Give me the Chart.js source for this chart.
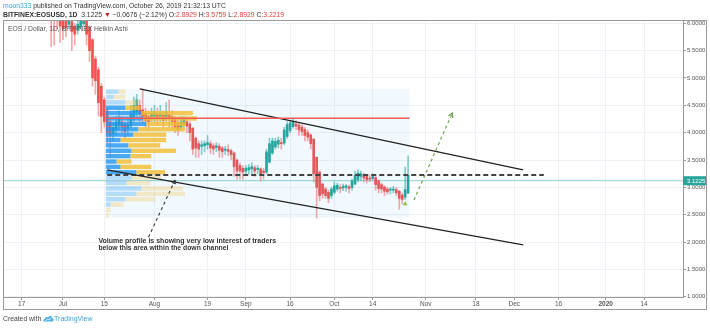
<!doctype html>
<html lang="en">
<head>
<meta charset="utf-8">
<title>EOSUSD Heikin Ashi</title>
<script src="https://cdn.jsdelivr.net/npm/chart.js@4.4.1/dist/chart.umd.min.js"></script>
<style>
  body { margin: 0; background: #fff; font-family: "Liberation Sans", Arial, sans-serif; }
  #wrap { position: relative; width: 710px; height: 328px; overflow: hidden; }
  #chart { position: absolute; left: 0; top: 0; }
  .txt { position: absolute; white-space: nowrap; font-size: 6.8px; color: #333; line-height: 8px; }
  .blue { color: #3ea3dd; }
  .red { color: #e0403c; }
</style>
</head>
<body>
<div id="wrap">
  <canvas id="chart" width="710" height="328"></canvas>
  <div class="txt" style="left:3px; top:2px;"><span class="blue">moon333</span> published on TradingView.com, October 26, 2019 21:32:13 UTC</div>
  <div class="txt" style="left:3px; top:11px;"><b>BITFINEX:EOSUSD, 1D</b>&nbsp; 3.1225 <span style="color:#b71c1c">&#9660;</span> &minus;0.0676 (&minus;2.12%) O:<span class="red">2.8929</span> H:<span class="red">3.5759</span> L:<span class="red">2.8929</span> C:<span class="red">3.2219</span></div>
  <div class="txt" style="left:8px; top:25px; color:#555;">EOS / Dollar, 1D, BITFINEX Heikin Ashi</div>
  <div class="txt" style="left:3px; top:315px; color:#444;">Created with
    <svg width="11" height="7" viewBox="0 0 11 7" style="vertical-align:-1px"><path d="M1 6.5 C0 6.5 0 4 2 4 C2 2 4 1.5 5 2.5 C6 0 10 0.5 9.5 3.5 C11 3.5 11 6.5 9.5 6.5 Z" fill="#4fb0e6"/><path d="M2.5 6 L4.5 4 L6 5 L8.5 2.5" stroke="#fff" stroke-width="0.8" fill="none"/></svg><span class="blue" style="font-size:7px">TradingView</span></div>
</div>

<script>
// time axis
const tickDays = [0, 14, 28, 45, 63, 76, 91, 106, 119, 137, 154, 167, 182, 198, 211];
const tickLabels = ['17', 'Jul', '15', 'Aug', '19', 'Sep', '16', 'Oct', '14', 'Nov', '18', 'Dec', '16', '2020', '14'];
const priceTicks = [1, 1.5, 2, 2.5, 3, 3.5, 4, 4.5, 5, 5.5, 6];

// heikin ashi candles (1D)
const candleDates = [
  '2019-06-25', '2019-06-26', '2019-06-27', '2019-06-28', '2019-06-29', '2019-06-30',
  '2019-07-01', '2019-07-02', '2019-07-03', '2019-07-04', '2019-07-05', '2019-07-06', '2019-07-07',
  '2019-07-08', '2019-07-09', '2019-07-10', '2019-07-11', '2019-07-12', '2019-07-13', '2019-07-14',
  '2019-07-15', '2019-07-16', '2019-07-17', '2019-07-18', '2019-07-19', '2019-07-20', '2019-07-21',
  '2019-07-22', '2019-07-23', '2019-07-24', '2019-07-25', '2019-07-26', '2019-07-27', '2019-07-28',
  '2019-07-29', '2019-07-30', '2019-07-31',
  '2019-08-01', '2019-08-02', '2019-08-03', '2019-08-04', '2019-08-05', '2019-08-06', '2019-08-07',
  '2019-08-08', '2019-08-09', '2019-08-10', '2019-08-11', '2019-08-12', '2019-08-13', '2019-08-14',
  '2019-08-15', '2019-08-16', '2019-08-17', '2019-08-18', '2019-08-19', '2019-08-20', '2019-08-21',
  '2019-08-22', '2019-08-23', '2019-08-24', '2019-08-25', '2019-08-26', '2019-08-27', '2019-08-28',
  '2019-08-29', '2019-08-30', '2019-08-31',
  '2019-09-01', '2019-09-02', '2019-09-03', '2019-09-04', '2019-09-05', '2019-09-06', '2019-09-07',
  '2019-09-08', '2019-09-09', '2019-09-10', '2019-09-11', '2019-09-12', '2019-09-13', '2019-09-14',
  '2019-09-15', '2019-09-16', '2019-09-17', '2019-09-18', '2019-09-19', '2019-09-20', '2019-09-21',
  '2019-09-22', '2019-09-23', '2019-09-24', '2019-09-25', '2019-09-26', '2019-09-27', '2019-09-28',
  '2019-09-29', '2019-09-30',
  '2019-10-01', '2019-10-02', '2019-10-03', '2019-10-04', '2019-10-05', '2019-10-06', '2019-10-07',
  '2019-10-08', '2019-10-09', '2019-10-10', '2019-10-11', '2019-10-12', '2019-10-13', '2019-10-14',
  '2019-10-15', '2019-10-16', '2019-10-17', '2019-10-18', '2019-10-19', '2019-10-20', '2019-10-21',
  '2019-10-22', '2019-10-23', '2019-10-24', '2019-10-25', '2019-10-26'
];
const haOpen = [
  7.6, 7.7, 7.65, 7.0, 6.6, 6.4,
  6.2, 6.05, 5.98, 6.03, 5.95, 5.88, 5.93, 5.99, 6.05, 5.93, 5.7, 5.35, 5.15, 4.85,
  4.6, 4.4, 4.2, 3.98, 4.05, 4.12, 4.2, 4.15, 4.08, 4.12, 4.25, 4.38, 4.5, 4.42,
  4.36, 4.3, 4.25,
  4.3, 4.34, 4.3, 4.32, 4.27, 4.33, 4.3, 4.25, 4.17, 4.1, 4.15, 4.2, 4.16, 4.08,
  3.9, 3.8, 3.75, 3.76, 3.78, 3.8, 3.76, 3.73, 3.75, 3.72, 3.68, 3.69, 3.67, 3.63,
  3.5, 3.4, 3.35,
  3.3, 3.32, 3.34, 3.36, 3.33, 3.34, 3.3, 3.28, 3.46, 3.63, 3.74, 3.79, 3.82, 3.81,
  3.93, 4.04, 4.11, 4.16, 4.14, 4.1, 4.06, 4.0, 3.96, 3.88, 3.55, 3.28, 3.06, 2.97,
  2.91, 2.85,
  2.91, 2.97, 3.0, 2.99, 3.0, 3.01, 3.0, 3.06, 3.14, 3.2, 3.23, 3.2, 3.17, 3.16,
  3.18, 3.12, 3.05, 3.01, 2.97, 2.95, 2.95, 2.96, 2.93, 2.86, 2.82, 2.8929
];
const haHigh = [
  8.2, 8.4, 7.7, 7.05, 6.7, 6.45,
  6.25, 6.1, 6.15, 6.1, 6.0, 6.05, 6.12, 6.2, 6.08, 5.95, 5.72, 5.4, 5.2, 4.9,
  4.65, 4.45, 4.25, 4.2, 4.3, 4.4, 4.3, 4.2, 4.25, 4.5, 4.65, 4.7, 4.6, 4.8,
  4.45, 4.4, 4.45,
  4.5, 4.45, 4.5, 4.4, 4.55, 4.6, 4.4, 4.3, 4.25, 4.3, 4.3, 4.25, 4.2, 4.1,
  3.92, 3.85, 3.85, 3.85, 3.95, 3.85, 3.8, 3.82, 3.8, 3.75, 3.75, 3.78, 3.7, 3.65,
  3.52, 3.45, 3.4,
  3.4, 3.42, 3.45, 3.4, 3.4, 3.36, 3.35, 3.7, 3.9, 3.9, 3.9, 3.92, 3.9, 4.1,
  4.2, 4.22, 4.27, 4.22, 4.18, 4.15, 4.1, 4.05, 3.98, 3.9, 3.56, 3.3, 3.08, 3.0,
  2.95, 3.0,
  3.1, 3.08, 3.05, 3.06, 3.05, 3.04, 3.15, 3.3, 3.32, 3.3, 3.26, 3.22, 3.22, 3.25,
  3.2, 3.14, 3.08, 3.03, 3.0, 3.0, 3.02, 3.0, 2.95, 2.9, 3.37, 3.5759
];
const haLow = [
  7.1, 7.0, 5.57, 5.6, 5.9, 5.65,
  5.7, 5.75, 5.9, 5.5, 5.6, 5.8, 5.9, 5.95, 5.6, 5.3, 4.85, 4.7, 4.3, 4.0,
  4.1, 3.8, 3.55, 3.85, 3.95, 4.05, 4.0, 3.9, 3.95, 4.1, 4.2, 4.3, 4.2, 4.15,
  4.1, 4.05, 4.2,
  4.2, 4.15, 4.2, 4.1, 4.2, 4.1, 4.05, 4.0, 3.95, 4.05, 4.1, 4.0, 3.85, 3.6,
  3.55, 3.55, 3.6, 3.65, 3.7, 3.62, 3.6, 3.65, 3.55, 3.55, 3.6, 3.58, 3.5, 3.2,
  3.15, 3.15, 3.15,
  3.22, 3.25, 3.25, 3.2, 3.25, 3.12, 3.15, 3.25, 3.45, 3.6, 3.7, 3.72, 3.7, 3.78,
  3.9, 4.0, 4.08, 4.05, 3.95, 3.95, 3.85, 3.85, 3.7, 3.1, 2.44, 2.75, 2.8, 2.8,
  2.72, 2.8,
  2.88, 2.93, 2.9, 2.94, 2.93, 2.9, 2.95, 3.05, 3.1, 3.12, 3.1, 3.08, 3.1, 3.12,
  2.95, 2.9, 2.9, 2.85, 2.88, 2.88, 2.9, 2.85, 2.6, 2.7, 2.78, 2.8929
];
const haClose = [
  7.8, 7.6, 6.5, 6.3, 6.2, 5.95,
  5.9, 5.92, 6.08, 5.85, 5.8, 5.98, 6.05, 6.1, 5.8, 5.5, 5.0, 4.95, 4.55, 4.3,
  4.2, 4.0, 3.95, 4.1, 4.2, 4.25, 4.1, 4.02, 4.15, 4.35, 4.5, 4.6, 4.35, 4.3,
  4.22, 4.2, 4.35,
  4.38, 4.25, 4.35, 4.22, 4.38, 4.28, 4.2, 4.1, 4.05, 4.2, 4.25, 4.12, 4.0, 3.7,
  3.72, 3.7, 3.78, 3.8, 3.82, 3.72, 3.7, 3.76, 3.68, 3.65, 3.7, 3.66, 3.6, 3.38,
  3.3, 3.3, 3.28,
  3.35, 3.36, 3.38, 3.3, 3.35, 3.25, 3.27, 3.65, 3.8, 3.85, 3.84, 3.86, 3.8, 4.05,
  4.15, 4.18, 4.2, 4.12, 4.05, 4.02, 3.95, 3.92, 3.8, 3.25, 3.0, 2.85, 2.88, 2.85,
  2.8, 2.97,
  3.03, 3.04, 2.98, 3.02, 3.03, 2.98, 3.12, 3.22, 3.26, 3.25, 3.17, 3.14, 3.15, 3.2,
  3.05, 2.98, 2.97, 2.93, 2.92, 2.96, 2.97, 2.9, 2.8, 2.78, 2.96, 3.2219
];
const lastPrice = 3.1225;

// visible range volume profile (24 rows, top row first)
const vpStartDate = '2019-07-16';
const vpEndDate = '2019-10-26';
const vpHigh = 4.80;
const vpLow = 2.44;
const vaHigh = 4.505;
const vaLow = 3.227;
const pocPrice = 4.263;
const vpUpVol =   [13, 8, 20, 20, 36, 38, 41, 33, 28, 15, 23, 26, 25, 11, 15, 31, 26, 21, 36, 31, 20, 5, 0, 0];
const vpDownVol = [7, 12, 13, 15, 52, 54, 40, 47, 33, 46, 32, 45, 21, 15, 31, 29, 30, 24, 42, 49, 30, 13, 5, 3];

// drawings: [date, price] pairs
const channelTop = [['2019-07-27', 4.80], ['2019-12-04', 3.32]];
const channelBottom = [['2019-07-16', 3.32], ['2019-12-04', 1.95]];
const supportLine = [['2019-07-16', 3.227], ['2019-12-11', 3.227]];
const projection = [['2019-10-28', 2.77], ['2019-11-10', 4.36]];
const noteArrow = [['2019-07-30', 2.09], ['2019-08-08', 3.135]];
const noteLines = ['Volume profile is showing very low interest of traders', 'below this area within the down channel'];
const notePos = ['2019-07-13', 1.975];

const base = Date.UTC(2019, 5, 17);
function dayOf(s) { return (Date.parse(s + 'T00:00:00Z') - base) / 86400000; }
function pts(arr) { return arr.map(p => ({ x: dayOf(p[0]), y: p[1] })); }

const UP = '#26a69a', DOWN = '#ef5350';
const bodies = candleDates.map((d, i) => ({ x: dayOf(d), y: [haOpen[i], haClose[i]] }));
const wicks = candleDates.map((d, i) => ({ x: dayOf(d), y: [haLow[i], haHigh[i]] }));
const isUp = i => haClose[i] >= haOpen[i];

function drawProfile(chart) {
  const { ctx, scales: { x, y } } = chart;
  const x0 = x.getPixelForValue(dayOf(vpStartDate) - 0.5);
  const x1 = x.getPixelForValue(dayOf(vpEndDate) + 0.5);
  const rowH = (vpHigh - vpLow) / vpUpVol.length;
  const maxTot = Math.max(...vpUpVol.map((u, i) => u + vpDownVol[i]));
  const full = (x1 - x0) * 0.3;
  ctx.save();
  ctx.fillStyle = 'rgba(33,150,243,0.06)';
  const yt0 = y.getPixelForValue(vpHigh), yb0 = y.getPixelForValue(vpLow);
  ctx.fillRect(x0, yt0, x1 - x0, yb0 - yt0);
  vpUpVol.forEach((u, i) => {
    const hi = vpHigh - i * rowH, lo = hi - rowH, mid = (hi + lo) / 2;
    const yt = y.getPixelForValue(hi), yb = y.getPixelForValue(lo);
    const inVA = mid <= vaHigh && mid >= vaLow;
    const wu = u / maxTot * full, wd = vpDownVol[i] / maxTot * full;
    ctx.fillStyle = inVA ? 'rgba(33,150,243,0.8)' : 'rgba(33,150,243,0.3)';
    ctx.fillRect(x0, yt + 0.5, wu, yb - yt - 1);
    ctx.fillStyle = inVA ? 'rgba(242,190,50,0.82)' : 'rgba(240,205,110,0.38)';
    ctx.fillRect(x0 + wu, yt + 0.5, wd, yb - yt - 1);
  });
  ctx.restore();
}

function arrowHead(ctx, a, b, len, spread, closed) {
  const ang = Math.atan2(b.y - a.y, b.x - a.x);
  const p1 = { x: b.x - len * Math.cos(ang - spread), y: b.y - len * Math.sin(ang - spread) };
  const p2 = { x: b.x - len * Math.cos(ang + spread), y: b.y - len * Math.sin(ang + spread) };
  ctx.beginPath();
  ctx.moveTo(p1.x, p1.y); ctx.lineTo(b.x, b.y); ctx.lineTo(p2.x, p2.y);
  if (closed) ctx.closePath();
  ctx.stroke();
}

const overlayPlugin = {
  id: 'overlay',
  afterDatasetDraw(chart, args) {
    if (args.meta.label === 'HA bodies') drawProfile(chart);
  },
  afterDraw(chart) {
    const { ctx, scales: { x, y }, chartArea: ca } = chart;
    const px = p => ({ x: x.getPixelForValue(dayOf(p[0])), y: y.getPixelForValue(p[1]) });
    ctx.save();
    // arrow heads
    ctx.setLineDash([]);
    ctx.strokeStyle = '#6aa84f'; ctx.lineWidth = 1.2;
    arrowHead(ctx, px(projection[0]), px(projection[1]), 5, 0.5, false);
    ctx.strokeStyle = '#333'; ctx.lineWidth = 1;
    arrowHead(ctx, px(noteArrow[0]), px(noteArrow[1]), 4, 0.5, true);
    // small marker under last candles
    const m = { x: x.getPixelForValue(dayOf('2019-10-25')), y: y.getPixelForValue(2.70) };
    ctx.fillStyle = '#8bc34a';
    ctx.beginPath(); ctx.moveTo(m.x, m.y - 2.5); ctx.lineTo(m.x + 2.5, m.y + 1.5); ctx.lineTo(m.x - 2.5, m.y + 1.5); ctx.closePath(); ctx.fill();
    // note text
    const np = px(notePos);
    ctx.fillStyle = '#333';
    ctx.font = 'bold 7px "Liberation Sans", Arial, sans-serif';
    ctx.textBaseline = 'alphabetic';
    ctx.fillText(noteLines[0], np.x, np.y, 180);
    ctx.fillText(noteLines[1], np.x, np.y + 6.5, 180 * noteLines[1].length / noteLines[0].length);
    // last price label on the price axis
    const ly = y.getPixelForValue(lastPrice);
    ctx.fillStyle = UP;
    ctx.fillRect(ca.right, ly - 4.5, 23, 9);
    ctx.fillStyle = '#fff';
    ctx.font = '6px "Liberation Sans", Arial, sans-serif';
    ctx.textBaseline = 'middle';
    ctx.fillText(lastPrice.toFixed(4), ca.right + 4, ly + 0.5);
    // outer frame
    ctx.strokeStyle = '#9a9a9a'; ctx.lineWidth = 1;
    ctx.strokeRect(3.5, 20.5, 703, 289);
    ctx.restore();
  }
};

const lineBase = { type: 'line', pointRadius: 0, borderWidth: 1.2, fill: false, clip: 0, order: 1, tension: 0 };

new Chart(document.getElementById('chart'), {
  type: 'bar',
  data: {
    datasets: [
      { label: 'HA wicks', data: wicks, barThickness: 1, grouped: false, clip: 0, order: 4,
        backgroundColor: c => isUp(c.dataIndex) ? 'rgba(38,166,154,0.55)' : 'rgba(239,83,80,0.5)' },
      { label: 'HA bodies', data: bodies, barThickness: 2, grouped: false, clip: 0, order: 3,
        minBarLength: 1, backgroundColor: c => isUp(c.dataIndex) ? UP : DOWN },
      Object.assign({}, lineBase, { label: 'last', order: 5, data: [{ x: -7, y: lastPrice }, { x: 230, y: lastPrice }], borderColor: 'rgba(38,166,154,0.5)', borderWidth: 1 }),
      Object.assign({}, lineBase, { label: 'POC', data: [{ x: dayOf(vpStartDate) - 0.5, y: pocPrice }, { x: dayOf(vpEndDate) + 0.5, y: pocPrice }], borderColor: '#f05a5a', borderWidth: 1.5 }),
      Object.assign({}, lineBase, { label: 'channel top', data: pts(channelTop), borderColor: '#222' }),
      Object.assign({}, lineBase, { label: 'channel bottom', data: pts(channelBottom), borderColor: '#222' }),
      Object.assign({}, lineBase, { label: 'support', data: pts(supportLine), borderColor: '#444', borderWidth: 2, borderDash: [5, 3] }),
      Object.assign({}, lineBase, { label: 'projection', data: pts(projection), borderColor: '#6aa84f', borderWidth: 1.2, borderDash: [3, 3] }),
      Object.assign({}, lineBase, { label: 'note', data: pts(noteArrow), borderColor: '#333', borderWidth: 1.1, borderDash: [3, 3] })
    ]
  },
  options: {
    responsive: false,
    animation: false,
    events: [],
    layout: { padding: { left: 4, top: 21, right: 4, bottom: 19 } },
    plugins: { legend: { display: false }, tooltip: { enabled: false } },
    scales: {
      x: {
        type: 'linear', min: -6.0, max: 224.2, offset: false,
        grid: { offset: false, color: '#eef2f7', tickColor: '#999', tickLength: 3 },
        border: { color: '#9a9a9a' },
        afterBuildTicks: s => { s.ticks = tickDays.map(v => ({ value: v })); },
        afterFit: s => { s.height = 12; },
        ticks: {
          autoSkip: false, maxRotation: 0, padding: 0, color: '#555',
          font: c => ({ size: 6.5, family: '"Liberation Sans", Arial, sans-serif', weight: c.tick && c.tick.value === 198 ? 'bold' : 'normal' }),
          callback: v => tickLabels[tickDays.indexOf(v)]
        }
      },
      y: {
        position: 'right', min: 0.996, max: 6.042,
        grid: { color: '#eef2f7', tickColor: '#999', tickLength: 3 },
        border: { color: '#9a9a9a' },
        afterBuildTicks: s => { s.ticks = priceTicks.map(v => ({ value: v })); },
        afterFit: s => { s.width = 23; },
        ticks: {
          padding: 1, color: '#555',
          font: { size: 6, family: '"Liberation Sans", Arial, sans-serif' },
          callback: v => Number(v).toFixed(4)
        }
      }
    }
  },
  plugins: [overlayPlugin]
});
</script>
</body>
</html>
